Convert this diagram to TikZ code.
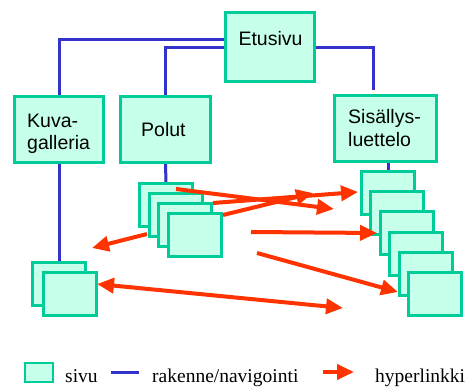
\documentclass[tikz,border=0pt]{standalone}
\usepackage{fontspec}
\setmainfont{Liberation Serif}
\newfontfamily\boxfont{Liberation Sans}
\usetikzlibrary{arrows.meta,backgrounds}
\definecolor{pagefill}{RGB}{198,255,234}
\definecolor{pageedge}{RGB}{0,204,153}
\definecolor{navblue}{RGB}{51,51,204}
\definecolor{linkred}{RGB}{255,51,0}
\tikzset{
  page/.style={draw=pageedge, fill=pagefill, line width=3pt, inner sep=0pt},
  mainpage/.style={page, minimum height=66pt},
  subpage/.style={page, minimum width=53pt, minimum height=43pt},
  boxtext/.style={font=\boxfont\fontsize{19.5}{22}\selectfont, inner sep=0pt, anchor=base west},
  legendtext/.style={font=\fontsize{19.5}{22}\selectfont, inner sep=0pt, anchor=base west},
  nav/.style={draw=navblue, line width=3pt},
  linktip/.style={Triangle[length=17pt,width=15pt]},
  link/.style={draw=linkred, line width=4pt, -{Triangle[length=17pt,width=15pt]}},
  twolink/.style={draw=linkred, line width=4pt, {Triangle[length=17pt,width=15pt]}-{Triangle[length=17pt,width=15pt]}},
}
\begin{document}
\begin{tikzpicture}[x=1pt,y=-1pt]
\useasboundingbox (0,0) rectangle (469,390);

% main pages
\node[page, minimum width=89pt, minimum height=69pt] (etu) at (270,47) {};
\node[mainpage, minimum width=89pt] (kuva) at (59,129.5) {};
\node[mainpage, minimum width=90pt] (polut) at (165.5,129.5) {};
\node[mainpage, minimum width=102pt] (sis) at (385.5,128.5) {};

\node[boxtext, anchor=base] (etutxt) at (270.5,46) {Etusivu};
\node[boxtext] (kuvatxt1) at (27,128) {Kuva-};
\node[boxtext] (kuvatxt2) at (27,150) {galleria};
\node[boxtext] (poluttxt) at (141,137) {Polut};
\node[boxtext] (sistxt1) at (348,124) {Sisällys-};
\node[boxtext] (sistxt2) at (348,147) {luettelo};

% stacks of sub-pages
\node[subpage] (k1) at (59,284) {};
\node[subpage] (k2) at (70,294) {};
\foreach \i in {1,...,4}
  \node[subpage] (p\i) at ({166+9.7*(\i-1)},{205.5+9.7*(\i-1)}) {};
\foreach \i in {1,...,6}
  \node[subpage] (s\i) at ({388+9.4*(\i-1)},{193+20.2*(\i-1)}) {};

% structure / navigation
\begin{scope}[on background layer]
  \draw[nav] ([yshift=7pt]etu.west) -| (kuva.north);
  \draw[nav] ([yshift=-1pt]etu.west) -| (polut.north);
  \draw[nav] ([yshift=-1pt]etu.east) -| ([xshift=-12pt,yshift=3.5pt]sis.north);
  \draw[nav] (kuva.south) -- (k1.north);
  \draw[nav] (polut.south) -- (p1.north);
  \draw[nav] (sis.south -| s1.north) -- (s1.north);
\end{scope}

% hyperlinks
\coordinate (a1s) at (176,189);  \coordinate (a1e) at (334,209);
\coordinate (a2s) at (213,203);  \coordinate (a2e) at (358,192);
\coordinate (a3s) at (223,215);  \coordinate (a3e) at (313,193);
\coordinate (a4s) at (147,234);  \coordinate (a4e) at (92,248);
\coordinate (a5s) at (251,232);  \coordinate (a5e) at (377,233);
\coordinate (a6s) at (257,253);  \coordinate (a6e) at (398,292);
\coordinate (a7s) at (97,284);   \coordinate (a7e) at (343,308);
\draw[link] (a1s) -- (a1e);
\draw[link] (a2s) -- (a2e);
\draw[link] (a3s) -- (a3e);
\draw[link] (a4s) -- (a4e);
\draw[link] (a5s) -- (a5e);
\draw[link] (a6s) -- (a6e);
\draw[twolink] (a7s) -- (a7e);

% legend
\node[page, line width=2pt, minimum width=28pt, minimum height=19pt] (legpage) at (39,372.5) {};
\node[legendtext] (legpagetxt) at (65,382) {sivu};
\coordinate (navA) at (111,372); \coordinate (navB) at (139,372);
\draw[nav] (navA) -- (navB);
\node[legendtext] (legnavtxt) at (152,382) {rakenne/navigointi};
\coordinate (linkA) at (323,372); \coordinate (linkB) at (354,372);
\draw[link] (linkA) -- (linkB);
\node[legendtext] (leglinktxt) at (375,382) {hyperlinkki};
\end{tikzpicture}
\end{document}
